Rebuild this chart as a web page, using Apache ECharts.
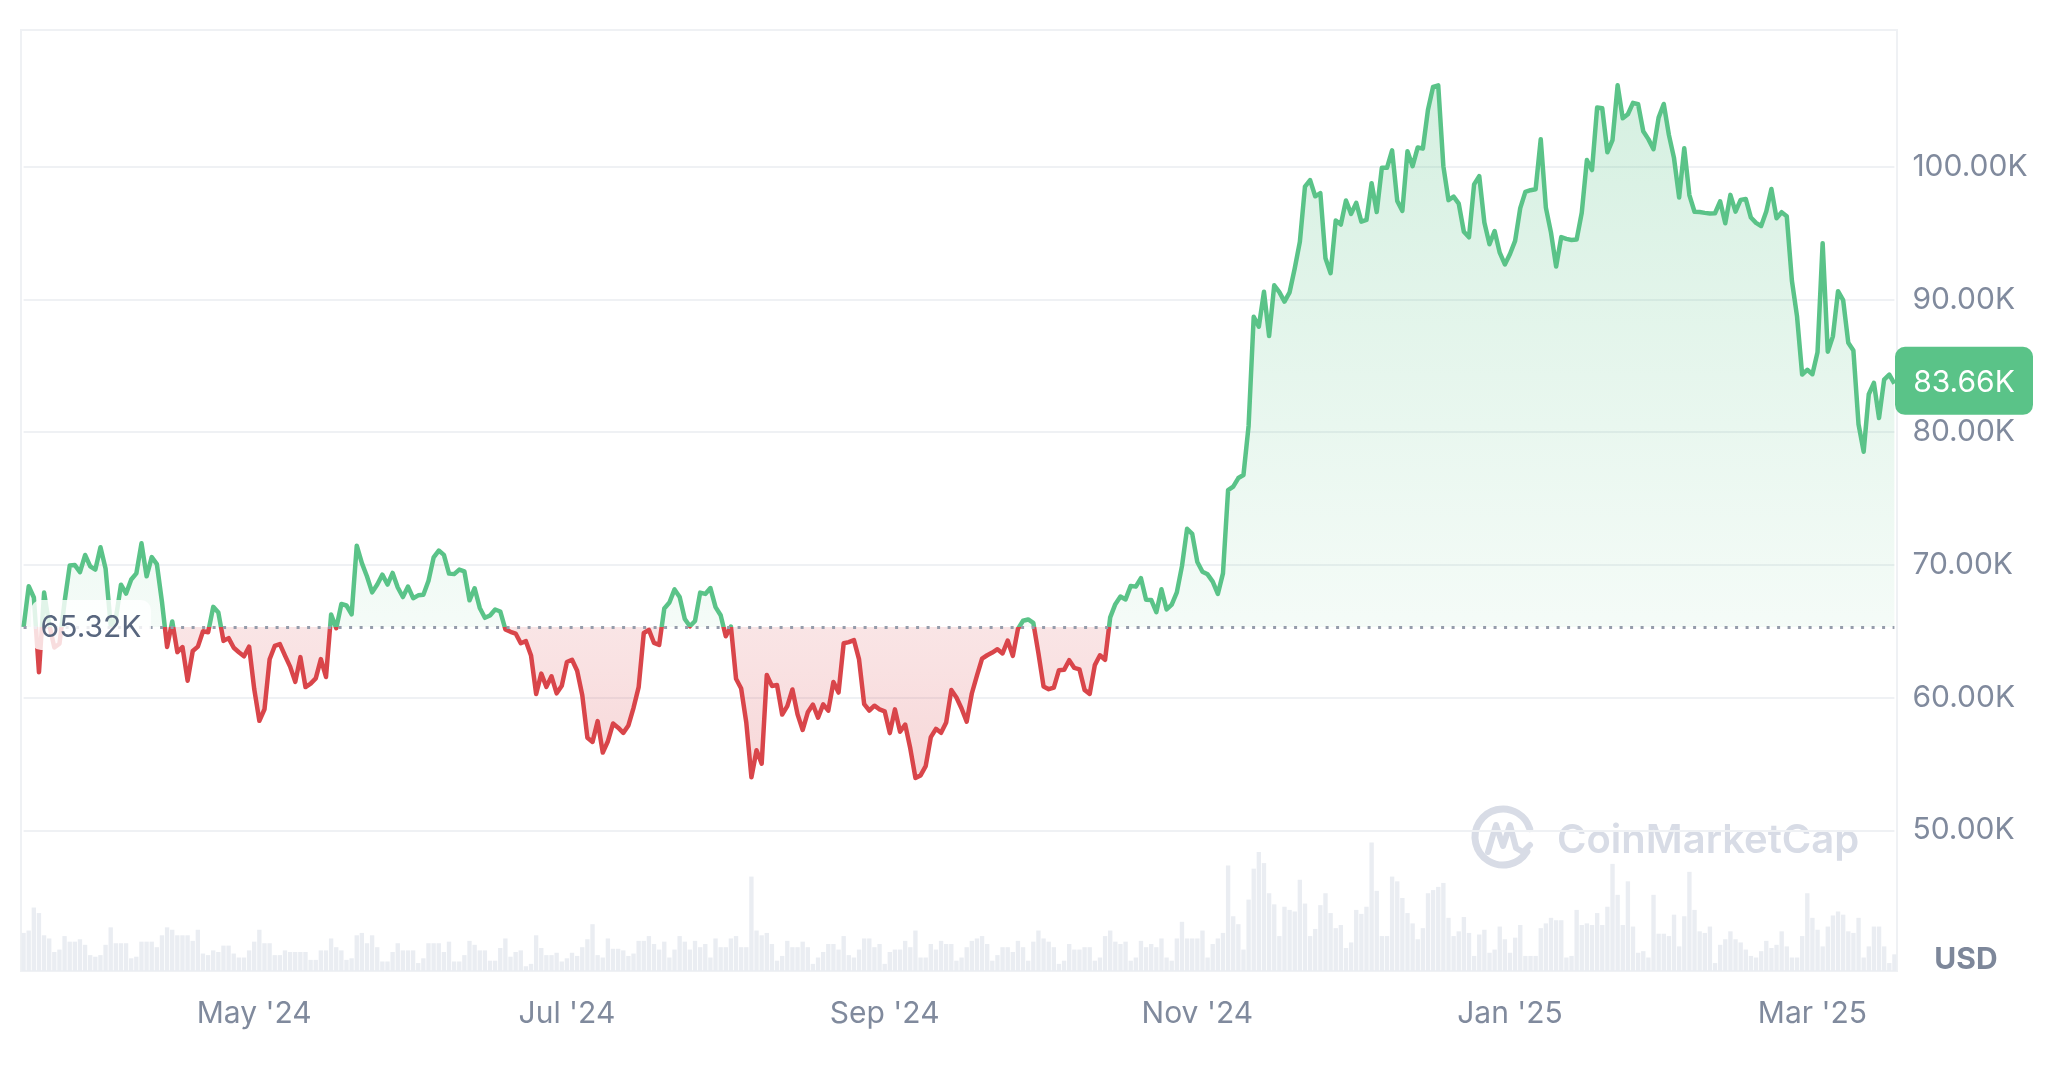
<!DOCTYPE html>
<html>
<head>
<meta charset="utf-8">
<script src="https://cdn.jsdelivr.net/npm/echarts@6/dist/echarts.min.js"></script>
<style>
html,body{margin:0;padding:0;background:#ffffff;}
#chart{width:2060px;height:1078px;}
</style>
</head>
<body>
<div id="chart"></div>
<script>
// ---- DATA (daily BTC closes in USD, one point per day; point timestamp = end of the close day) ----
const startDate = '2024-03-17';
const priceMar24 = [65316, 68390, 67548, 61912, 67913, 65491, 63779, 64062, 67234, 69958, 69987, 69455, 70744, 69892, 69646, 71333];
const priceApr24 = [69702, 65446, 65980, 68508, 67837, 68896, 69362, 71631, 69139, 70587, 70060, 67195, 63821, 65738, 63426, 63811, 61276, 63512, 63843, 64994, 64927, 66837, 66407, 64276, 64481, 63755, 63419, 63113, 63841, 60636];
const priceMay24 = [58254, 59123, 62889, 63891, 64031, 63161, 62334, 61187, 63049, 60793, 61050, 61448, 62901, 61553, 66267, 65231, 67051, 66940, 66278, 71448, 70136, 69122, 67929, 68526, 69265, 68518, 69394, 68296, 67578, 68364, 67491];
const priceJun24 = [67706, 67751, 68804, 70567, 71082, 70757, 69342, 69305, 69648, 69512, 67332, 68241, 66757, 66011, 66191, 66639, 66490, 65140, 64960, 64828, 64096, 64252, 63180, 60277, 61804, 60811, 61604, 60320, 60887, 62678];
const priceJul24 = [62851, 62029, 60173, 56977, 56662, 58230, 55857, 56714, 58048, 57732, 57344, 57899, 59232, 60788, 64870, 65098, 64118, 63975, 66710, 67164, 68154, 67586, 65927, 65373, 65777, 67912, 67813, 68255, 66819, 66201, 64619];
const priceAug24 = [65357, 61416, 60681, 58116, 53991, 56034, 55027, 61710, 60881, 60945, 58720, 59354, 60609, 58737, 57560, 58894, 59478, 58483, 59493, 59012, 61175, 60381, 64094, 64178, 64333, 62880, 59504, 59027, 59388, 59119, 58969];
const priceSep24 = [57325, 59112, 57431, 57971, 56160, 53948, 54139, 54841, 57019, 57648, 57343, 58127, 60571, 60005, 59182, 58192, 60309, 61649, 62940, 63192, 63394, 63648, 63329, 64301, 63143, 65181, 65790, 65887, 65635, 63329];
const priceOct24 = [60837, 60632, 60759, 62067, 62090, 62818, 62236, 62131, 60582, 60275, 62446, 63193, 62851, 66046, 67041, 67612, 67399, 68418, 68362, 69002, 67367, 67361, 66432, 68161, 66642, 67014, 67929, 69907, 72720, 72339, 70215];
const priceNov24 = [69482, 69289, 68741, 67811, 69359, 75639, 75905, 76545, 76778, 80474, 88701, 87955, 90585, 87250, 91066, 90558, 89845, 90542, 92343, 94339, 98504, 98997, 97777, 98013, 93102, 91986, 95962, 95652, 97461, 96449];
const priceDec24 = [97279, 95865, 96002, 98768, 96593, 99920, 99924, 101237, 97432, 96675, 101173, 100044, 101459, 101372, 104298, 106029, 106140, 100041, 97490, 97755, 97225, 95105, 94686, 98676, 99299, 95795, 94164, 95163, 93530, 92643, 93429];
const priceJan25 = [94419, 96886, 98107, 98237, 98314, 102078, 96922, 95043, 92484, 94701, 94566, 94488, 94516, 96535, 100504, 99756, 104462, 104408, 101089, 102016, 106146, 103653, 103960, 104819, 104714, 102682, 102087, 101332, 103703, 104735, 102405];
const priceFeb25 = [100656, 97688, 101406, 97871, 96615, 96593, 96529, 96482, 96500, 97400, 95747, 97885, 96623, 97508, 97580, 96175, 95773, 95539, 96635, 98333, 96125, 96577, 96273, 91418, 88736, 84347, 84704, 84373];
const priceMar25 = [86031, 94248, 86065, 87222, 90623, 89961, 86742, 86154, 80601, 78532, 82862, 83722, 81066, 83969, 84343, 83660];

// daily volume (billions USD)
const volumeA = [48, 51, 80, 73, 45, 41, 24, 27, 44, 37, 37, 40,
  33, 20, 18, 20, 33, 55, 35, 35, 35, 16, 18, 37,
  37, 37, 30, 45, 55, 52, 45, 45, 45, 38, 52, 22,
  20, 26, 24, 32, 32, 22, 17, 17, 26, 37, 52, 35,
  35, 20, 20, 26, 24, 24, 24, 24, 14, 14, 26, 26,
  41, 30, 26, 14, 16, 45, 48, 35, 45, 30, 12, 12,
  24, 35, 26, 26, 26, 10, 16, 35, 35, 35, 24, 37,
  12, 12, 20, 38, 33, 26, 26, 13, 13, 29, 41, 18,
  24, 26, 6, 9, 45, 29, 20, 20, 23, 12, 16, 23,
  19, 30, 40, 59, 20, 17, 41, 28, 28, 26, 19, 22, 38];
const volumeB = [38, 44, 34, 27, 37, 17, 27, 44, 37, 27, 38, 30,
  34, 17, 41, 30, 30, 41, 44, 30, 30, 119, 51, 45,
  48, 34, 13, 19, 38, 30, 30, 37, 30, 9, 17, 24,
  34, 34, 27, 44, 20, 17, 27, 41, 41, 30, 34, 9,
  24, 27, 27, 38, 30, 51, 17, 17, 34, 27, 38, 34,
  34, 13, 17, 30, 38, 41, 44, 34, 13, 20, 30, 30,
  24, 38, 30, 13, 37, 51, 41, 37, 30, 9, 13, 34,
  27, 27, 30, 30, 13, 17, 44, 51, 37, 34, 37, 13,
  17, 38, 30, 34, 30, 41, 17, 13, 41, 62, 41, 41, 41, 51, 17, 34, 41, 48, 133, 69, 59, 27, 90, 129, 150, 136, 98, 84, 44];
const volumeC = [81, 77, 75, 115, 85, 44, 53, 83, 98, 73,
  54, 58, 29, 36, 77, 72, 81, 162, 101, 44,
  44, 119, 113, 92, 73, 60, 40, 54, 98, 102,
  106, 111, 67, 44, 50, 68, 48, 19, 46, 52,
  23, 27, 56, 40, 23, 42, 58, 19, 19, 19,
  54, 60, 67, 64, 64, 17, 19, 77, 58, 60,
  58, 73, 58, 81, 135, 96, 58, 113, 56, 23,
  25, 17, 96, 47, 47, 44, 71, 31, 69, 125,
  77, 50, 48, 56, 10, 33, 40, 50, 40, 36,
  27, 19, 17, 25, 38, 29, 33, 50, 31, 17,
  17, 44, 98, 67, 52, 31, 56, 70, 75, 71,
  50, 48, 67, 17, 31, 56, 56, 31, 10, 21];

const tickDates = ['2024-05-01', '2024-07-01', '2024-09-01', '2024-11-01', '2025-01-01', '2025-03-01'];
const tickLabels = ["May '24", "Jul '24", "Sep '24", "Nov '24", "Jan '25", "Mar '25"];
const baselinePrice = 65316;   // shown as 65.32K
const lastPrice = 83660;       // shown as 83.66K
const currencyLabel = 'USD';
const watermarkText = 'CoinMarketCap';

// ---- build ----
const prices = [].concat(priceMar24, priceApr24, priceMay24, priceJun24, priceJul24, priceAug24,
  priceSep24, priceOct24, priceNov24, priceDec24, priceJan25, priceFeb25, priceMar25);
const volumes = [].concat(volumeA, volumeB, volumeC);
const dates = [];
const t0 = new Date(startDate + 'T00:00:00Z').getTime();
for (let i = 0; i < prices.length; i++) {
  dates.push(new Date(t0 + i * 86400000).toISOString().slice(0, 10));
}
const fmtK = v => (v / 1000).toFixed(2) + 'K';

const GREEN = '#5ac388';
const RED = '#d9454a';
const GRIDC = '#eff1f4';
const LABEL = '#808a9d';
const FONT = 'Inter, "Noto Sans", sans-serif';

const maxV = Math.max(...prices), minV = Math.min(...prices);
const split = (maxV - baselinePrice) / (maxV - minV);

const chart = echarts.init(document.getElementById('chart'), null, {renderer: 'canvas'});
const option = {
  animation: false,
  backgroundColor: '#ffffff',
  textStyle: {fontFamily: FONT},
  grid: [
    {left: 21, right: 163, top: 30, bottom: 107, show: true, borderColor: GRIDC, borderWidth: 2, backgroundColor: 'transparent'},
    {left: 23.6, right: 165.6, top: 34.1, bottom: 115}
  ],
  xAxis: [
    {gridIndex: 0, type: 'category', data: dates, boundaryGap: true, show: false},
    {gridIndex: 1, type: 'category', data: dates, boundaryGap: false,
      axisLine: {show: false}, axisTick: {show: false}, splitLine: {show: false},
      axisLabel: {
        interval: (i, v) => tickDates.indexOf(v) >= 0,
        formatter: v => { const k = tickDates.indexOf(v); return k >= 0 ? tickLabels[k] : ''; },
        color: LABEL, fontSize: 30, fontFamily: FONT, margin: 36
      }
    }
  ],
  yAxis: [
    {gridIndex: 0, type: 'value', min: 0, max: 1186, show: false, splitLine: {show: false}},
    {gridIndex: 1, type: 'value', position: 'right', min: 40000, max: 110000, interval: 10000,
      axisLine: {show: false}, axisTick: {show: false},
      splitLine: {show: true, showMinLine: false, showMaxLine: false, lineStyle: {color: GRIDC, width: 2}},
      axisLabel: {showMinLabel: false, showMaxLabel: false, formatter: v => fmtK(v),
        color: LABEL, fontSize: 30, fontFamily: FONT, margin: 18}
    }
  ],
  visualMap: {
    type: 'piecewise', show: false, seriesIndex: 1, dimension: 1,
    pieces: [
      {gt: baselinePrice, lte: 1000000, color: GREEN},
      {gte: 0, lte: baselinePrice, color: RED}
    ]
  },
  series: [
    {
      type: 'bar', xAxisIndex: 0, yAxisIndex: 0, data: volumes, silent: true,
      barCategoryGap: '15%', itemStyle: {color: '#eaedf2'}, z: 1
    },
    {
      type: 'line', xAxisIndex: 1, yAxisIndex: 1, data: prices, symbol: 'none', silent: true, z: 3,
      lineStyle: {width: 4.5, join: 'round'},
      areaStyle: {
        origin: baselinePrice,
        color: {type: 'linear', x: 0, y: 0, x2: 0, y2: 1, colorStops: [
          {offset: 0, color: 'rgba(90,195,136,0.36)'},
          {offset: split, color: 'rgba(90,195,136,0.09)'},
          {offset: split, color: 'rgba(217,69,74,0.20)'},
          {offset: 1, color: 'rgba(217,69,74,0.30)'}
        ]}
      },
      markLine: {
        silent: true, symbol: ['none', 'none'], label: {show: false},
        lineStyle: {type: [3, 7.5], color: '#959cab', width: 3},
        data: [{yAxis: baselinePrice}]
      },
      markPoint: {
        silent: true,
        data: [
          {
            coord: [dates[13], baselinePrice],
            symbol: 'path://M10,0H110A10,10 0 0 1 120,10V40A10,10 0 0 1 110,50H10A10,10 0 0 1 0,40V10A10,10 0 0 1 10,0Z',
            symbolSize: [120, 50], symbolOffset: [0.8, -2],
            itemStyle: {color: 'rgba(255,255,255,0.82)'},
            label: {show: true, position: 'inside', formatter: fmtK(baselinePrice), color: '#58667e', fontSize: 30, fontFamily: FONT, offset: [0, 3]}
          },
          {
            coord: [dates[dates.length - 1], lastPrice],
            symbol: 'path://M10,0H128A10,10 0 0 1 138,10V58A10,10 0 0 1 128,68H10A10,10 0 0 1 0,58V10A10,10 0 0 1 10,0Z',
            symbolSize: [138, 68], symbolOffset: [69.6, -2.8],
            itemStyle: {color: GREEN},
            label: {show: true, position: 'inside', formatter: fmtK(lastPrice), color: '#ffffff', fontSize: 30, fontFamily: FONT, offset: [0, 2]}
          }
        ]
      }
    }
  ],
  graphic: [
    {type: 'text', x: 1966, y: 960, z: 10,
      style: {text: currencyLabel, fontSize: 30, fontWeight: 'bold', fontFamily: FONT, fill: '#7d879a', align: 'center', verticalAlign: 'middle'}},
    {type: 'group', z: 0, silent: true, children: [
      {type: 'arc', shape: {cx: 1503, cy: 837, r: 28, startAngle: 0.55, endAngle: Math.PI * 2 - 0.3, clockwise: true},
        style: {stroke: '#d8dce6', lineWidth: 7, fill: null, lineCap: 'round'}},
      {type: 'polyline', shape: {points: [[1488, 852], [1496, 825], [1503, 846], [1510, 825], [1516, 848], [1523, 852], [1530, 845]]},
        style: {stroke: '#d8dce6', lineWidth: 6, fill: null, lineJoin: 'round', lineCap: 'round'}},
      {type: 'text', x: 1557, y: 841,
        style: {text: watermarkText, fontSize: 40, fontWeight: 600, fontFamily: FONT, fill: '#d8dce6', align: 'left', verticalAlign: 'middle'}}
    ]}
  ]
};
chart.setOption(option);
</script>
</body>
</html>
